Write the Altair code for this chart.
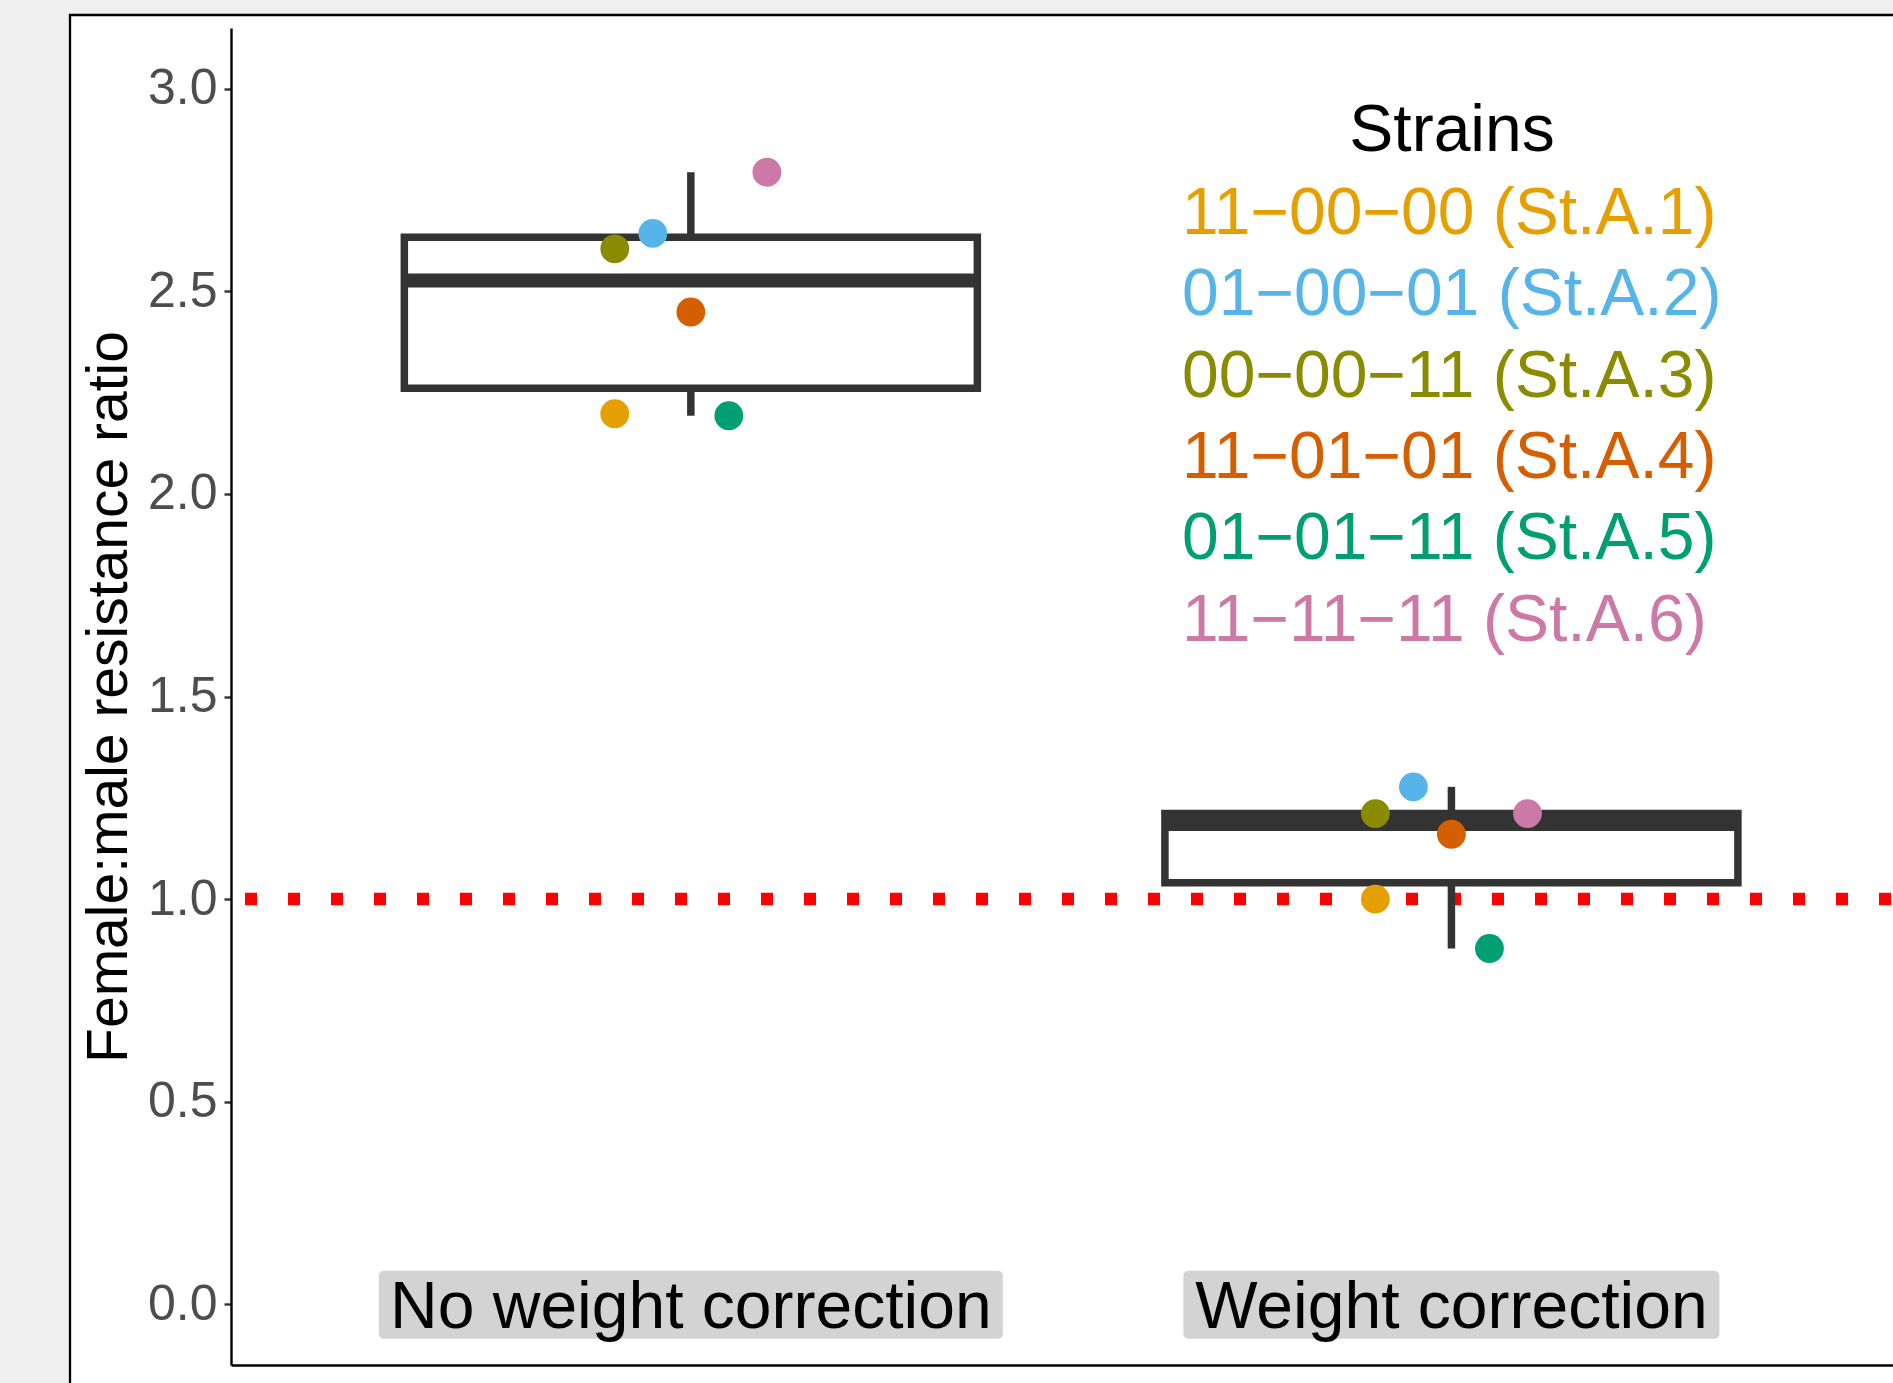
import altair as alt
import pandas as pd

# ---------------- data ----------------
groups = ["No weight correction", "Weight correction"]
group_pos = [1, 2]
strains = ["11−00−00 (St.A.1)", "01−00−01 (St.A.2)", "00−00−11 (St.A.3)",
           "11−01−01 (St.A.4)", "01−01−11 (St.A.5)", "11−11−11 (St.A.6)"]
strain_colors = ["#E69F00", "#56B4E9", "#8B8B00", "#D55E00", "#009E73", "#CC79A7"]
ratio_no_correction = [2.198, 2.643, 2.605, 2.449, 2.193, 2.794]
ratio_correction = [1.000, 1.277, 1.211, 1.160, 0.878, 1.211]
jitter = [-0.10, -0.05, -0.10, 0.00, 0.05, 0.10]
y_ticks = [0.0, 0.5, 1.0, 1.5, 2.0, 2.5, 3.0]
reference_ratio = [1.0]

rows = []
for g, gx, vals in zip(groups, group_pos, [ratio_no_correction, ratio_correction]):
    for s, v, j in zip(strains, vals, jitter):
        rows.append({"group": g, "gx": gx, "strain": s, "ratio": v, "jitter": j})
df = pd.DataFrame(rows)
label_df = pd.DataFrame({"group": groups, "gx": group_pos, "ratio": [0.0, 0.0]})
ref_df = pd.DataFrame({"ratio": reference_ratio})

# ---------------- scales / axes ----------------
FONT = "Liberation Sans"
xscale = alt.Scale(domain=[0.402, 2.574], nice=False, zero=False)
yscale = alt.Scale(domain=[-0.15, 3.15], nice=False, zero=False)
xaxis = alt.Axis(labels=False, ticks=False, title=None, grid=False,
                 domainColor="black", domainWidth=2.4, zindex=1)
yaxis = alt.Axis(title="Female:male resistance ratio", values=y_ticks, format=".1f",
                 labelFontSize=50, labelColor="#4D4D4D", labelFont=FONT, labelPadding=7,
                 tickSize=7, tickWidth=2.4, tickColor="#333333",
                 domainColor="black", domainWidth=2.4,
                 titleFontSize=57, titleColor="black", titleFontWeight="normal",
                 titleFont=FONT, titlePadding=9, grid=False, zindex=1)


def X(field):
    return alt.X(field, type="quantitative", scale=xscale, axis=xaxis)


def Y(field):
    return alt.Y(field, type="quantitative", scale=yscale, axis=yaxis)


color_expr = " : ".join(
    f"datum.value === '{s}' ? '{c}'" for s, c in zip(strains, strain_colors)
) + " : 'black'"

LEG_FS = 66
legend = alt.Legend(
    title="Strains", orient="none", legendX=951, legendY=71,
    titleFontSize=66, titleFontWeight="normal", titleColor="black", titleFont=FONT,
    titleAnchor="middle", titlePadding=16, titleLimit=2000,
    labelFontSize=LEG_FS, labelFont=FONT, labelColor={"expr": color_expr}, labelLimit=2000,
    labelOffset={"expr": str(-LEG_FS)}, symbolSize=0, symbolStrokeWidth=0, symbolOpacity=0,
    rowPadding=15.3, padding=0,
)

# ---------------- layers ----------------
frame = alt.Chart(alt.Data(values=[{"panel": 1}])).mark_rect(
    fill="white", stroke="black", strokeWidth=2.3
).encode(x=alt.value(-161), x2=alt.value(1760), y=alt.value(-13), y2=alt.value(1420))

ref_line = alt.Chart(ref_df).mark_rule(
    color="#FF0000", strokeWidth=12.5, strokeDash=[12, 31], strokeCap="butt", strokeDashOffset=-2
).encode(y=Y("ratio"))

box = alt.Chart(df).mark_boxplot(
    extent=1.5, size=573, orient="vertical", ticks=False, outliers=False,
    box={"fill": "white", "stroke": "#333333", "strokeWidth": 7.5, "opacity": 1},
    median={"color": "#333333", "thickness": 14, "opacity": 1},
    rule={"color": "#333333", "strokeWidth": 7.5, "opacity": 1},
).encode(x=X("gx"), y=Y("ratio"))

points = alt.Chart(df).transform_calculate(xj="datum.gx + datum.jitter").mark_circle(
    size=830, opacity=1
).encode(
    x=X("xj"), y=Y("ratio"),
    color=alt.Color("strain:N", scale=alt.Scale(domain=strains, range=strain_colors), legend=legend),
)

lab_box_1 = alt.Chart(label_df).transform_filter(alt.datum.gx == 1).mark_rect(
    fill="#D3D3D3", cornerRadius=5, xOffset=-312, x2Offset=312, yOffset=-33.5, y2Offset=34.5
).encode(x=X("gx"), x2=alt.X2("gx"), y=Y("ratio"), y2=alt.Y2("ratio"))

lab_box_2 = alt.Chart(label_df).transform_filter(alt.datum.gx == 2).mark_rect(
    fill="#D3D3D3", cornerRadius=5, xOffset=-268, x2Offset=268, yOffset=-33.5, y2Offset=34.5
).encode(x=X("gx"), x2=alt.X2("gx"), y=Y("ratio"), y2=alt.Y2("ratio"))

lab_text = alt.Chart(label_df).mark_text(
    fontSize=66, font=FONT, color="black", baseline="middle", dy=4
).encode(x=X("gx"), y=Y("ratio"), text="group:N")

chart = alt.layer(
    frame, ref_line, box, points, lab_box_1, lab_box_2, lab_text
).properties(
    width=1662, height=1337, background="#F0F0F0",
    padding={"left": 231, "top": 28, "right": 0, "bottom": 18},
    autosize=alt.AutoSizeParams(type="none"),
).configure_view(stroke=None).configure(font=FONT)

chart.save("out.html", embed_options={"renderer": "svg", "actions": False})
